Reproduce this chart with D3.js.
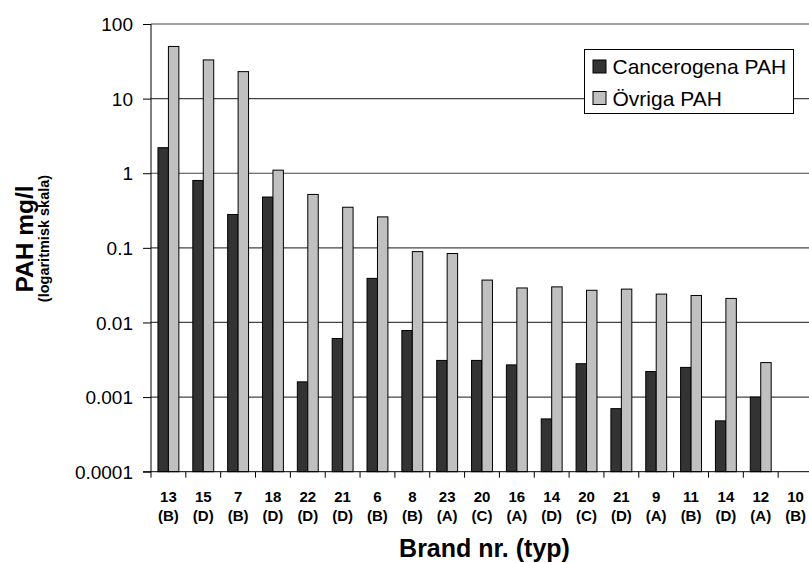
<!DOCTYPE html>
<html>
<head>
<meta charset="utf-8">
<script src="https://cdn.jsdelivr.net/npm/d3@7"></script>
<style>
    body { margin: 0; background: #fff; }
    svg text { font-family: "Liberation Sans", Arial, sans-serif; fill: #000; }
</style>
</head>
<body>
<div id="chart"></div>
<script>
/*
    PAH i släckvatten, log-skala, två serier per brand
 */

var brand_nr = ["13", "15", "7", "18", "22", "21", "6", "8", "23", "20", "16", "14", "20", "21", "9", "11", "14", "12", "10"];
var brand_typ = ["B", "D", "B", "D", "D", "D", "B", "B", "A", "C", "A", "D", "C", "D", "A", "B", "D", "A", "B"];

var series_names = ["Cancerogena PAH", "Övriga PAH"];
var cancerogena = [2.2, 0.80, 0.28, 0.48, 0.0016, 0.0061, 0.039, 0.0078, 0.0031, 0.0031, 0.0027, 0.00051, 0.0028, 0.0007, 0.0022, 0.0025, 0.00048, 0.001, null];
var ovriga = [50, 33, 23, 1.1, 0.52, 0.35, 0.26, 0.089, 0.084, 0.037, 0.029, 0.030, 0.027, 0.028, 0.024, 0.023, 0.021, 0.0029, null];

var y_ticks = [0.0001, 0.001, 0.01, 0.1, 1, 10, 100];

var svg_size = {
    'width': 809,
    'height': 563
};

var plot = {
    'left': 151,
    'right': 813,
    'top': 24,
    'bottom': 471.7
};

var colors = ['#333333', '#c0c0c0'];

var svg = d3.select("#chart")
    .append("svg")
    .attr('width', svg_size.width)
    .attr('height', svg_size.height);

var y_scale = d3.scaleLog()
    .domain([0.0001, 100])
    .range([plot.bottom, plot.top]);

var x_scale = d3.scaleBand()
    .domain(d3.range(brand_nr.length))
    .range([plot.left, plot.right])
    .padding(0);

var x_inner = d3.scaleBand()
    .domain([0, 1])
    .range([0, x_scale.bandwidth()])
    .paddingInner(0)
    .paddingOuter(0.667);

// gridlines
svg.append('g')
    .selectAll('line')
    .data(y_ticks.slice(1))
    .enter()
    .append('line')
    .attr('x1', plot.left)
    .attr('x2', plot.right)
    .attr('y1', function(d){ return y_scale(d); })
    .attr('y2', function(d){ return y_scale(d); })
    .style('stroke', '#444')
    .style('stroke-width', '1.2px');

// bars
var rows = brand_nr.map(function(d, i){
    return {'i': i, 'values': [cancerogena[i], ovriga[i]]};
});

var groups = svg.append('g')
    .selectAll('.brand-entry')
    .data(rows)
    .enter()
    .append('g')
    .classed('brand-entry', true)
    .attr('transform', function(d){
        return 'translate(' + x_scale(d.i) + ',0)';
    });

groups.selectAll('rect')
    .data(function(d){
        return d.values.map(function(v, k){ return {'k': k, 'v': v}; })
            .filter(function(e){ return e.v !== null; });
    })
    .enter()
    .append('rect')
    .attr('x', function(d){ return x_inner(d.k); })
    .attr('y', function(d){ return y_scale(d.v); })
    .attr('width', x_inner.bandwidth())
    .attr('height', function(d){ return plot.bottom - y_scale(d.v); })
    .style('fill', function(d){ return colors[d.k]; })
    .style('stroke', '#000')
    .style('stroke-width', '1px');

// y axis
var y_axis = d3.axisLeft(y_scale)
    .tickValues(y_ticks)
    .tickSize(8)
    .tickPadding(10)
    .tickFormat(function(d){ return String(+d.toPrecision(1)); });

var y_axis_group = svg.append('g')
    .attr('transform', 'translate(' + plot.left + ',0)')
    .call(y_axis);

y_axis_group.select('.domain').attr('d', 'M0,' + plot.top + 'V' + plot.bottom).style('stroke', '#000');
y_axis_group.selectAll('.tick line').style('stroke', '#000');
y_axis_group.selectAll('.tick text')
    .style('font-size', '19px')
    .attr('dy', '0.35em');

// x axis
var x_axis_group = svg.append('g')
    .attr('transform', 'translate(0,' + plot.bottom + ')');

x_axis_group.append('line')
    .attr('x1', plot.left - 8)
    .attr('x2', plot.right)
    .style('stroke', '#000');

x_axis_group.selectAll('.x-tick')
    .data(d3.range(brand_nr.length + 1))
    .enter()
    .append('line')
    .attr('x1', function(d){ return plot.left + d * x_scale.step(); })
    .attr('x2', function(d){ return plot.left + d * x_scale.step(); })
    .attr('y1', 0)
    .attr('y2', 6)
    .style('stroke', '#000');

var x_labels = x_axis_group.selectAll('.x-label')
    .data(d3.range(brand_nr.length))
    .enter()
    .append('text')
    .attr('x', function(d){ return x_scale(d) + x_scale.bandwidth() / 2; })
    .attr('text-anchor', 'middle')
    .style('font-size', '15px')
    .style('font-weight', 'bold');

x_labels.append('tspan')
    .attr('x', function(d){ return x_scale(d) + x_scale.bandwidth() / 2; })
    .attr('y', 30)
    .text(function(d){ return brand_nr[d]; });

x_labels.append('tspan')
    .attr('x', function(d){ return x_scale(d) + x_scale.bandwidth() / 2; })
    .attr('y', 49)
    .text(function(d){ return '(' + brand_typ[d] + ')'; });

// axis titles
svg.append('text')
    .attr('x', 484.5)
    .attr('y', 556.5)
    .attr('text-anchor', 'middle')
    .style('font-size', '25px')
    .style('font-weight', 'bold')
    .text('Brand nr. (typ)');

svg.append('text')
    .attr('transform', 'translate(32.5,239) rotate(-90)')
    .attr('text-anchor', 'middle')
    .style('font-size', '24.5px')
    .style('font-weight', 'bold')
    .text('PAH mg/l');

svg.append('text')
    .attr('transform', 'translate(48.5,238.5) rotate(-90)')
    .attr('text-anchor', 'middle')
    .style('font-size', '14.5px')
    .style('font-weight', 'bold')
    .text('(logaritmisk skala)');

// legend
var legend = svg.append('g')
    .attr('transform', 'translate(584.5,49.5)');

legend.append('rect')
    .attr('width', 209)
    .attr('height', 64)
    .style('fill', '#fff')
    .style('stroke', '#000');

var legend_items = legend.selectAll('.legend-item')
    .data(series_names)
    .enter()
    .append('g')
    .classed('legend-item', true)
    .attr('transform', function(d, i){
        return 'translate(0,' + (17.5 + 31.5 * i) + ')';
    });

legend_items.append('rect')
    .attr('x', 8.5)
    .attr('y', -7)
    .attr('width', 13)
    .attr('height', 13)
    .style('fill', function(d, i){ return colors[i]; })
    .style('stroke', '#000');

legend_items.append('text')
    .attr('x', 28)
    .attr('y', 0)
    .attr('dy', '0.35em')
    .style('font-size', '21px')
    .text(function(d){ return d; });
</script>
</body>
</html>
